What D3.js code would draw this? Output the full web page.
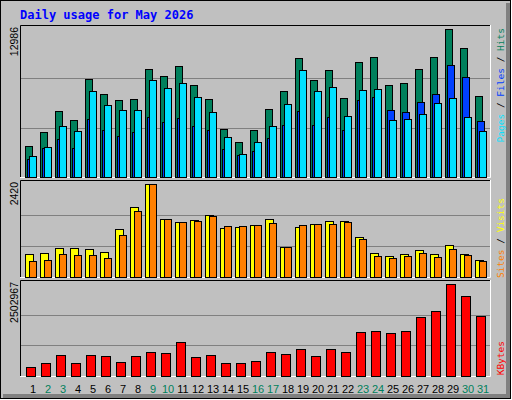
<!DOCTYPE html><html><head><meta charset="utf-8">
<script src="https://cdn.jsdelivr.net/npm/d3@7"></script>
<style>body{margin:0;background:#fff}</style></head><body>
<script>
const days = d3.range(1,32);
const weekend = [2,3,9,10,16,17,23,24,30,31];
const hits = [2720,3948,5791,5001,8599,7282,6756,6844,9476,8862,9739,8072,6844,4212,3071,4124,5966,7546,10441,8511,9388,6931,10090,10529,8072,8248,9476,10529,12986,11318,7107];
const files = [1579,2544,3334,2544,5089,4124,3597,3948,5264,4826,5177,4475,4124,2457,1930,2281,3422,4562,5791,4562,5264,4124,6756,7019,5879,5703,6581,7282,9827,8774,4913];
const pages = [1843,2632,4475,4036,7546,6317,5879,5879,8511,7809,8248,7019,5703,3510,2018,3071,4475,6405,9388,7546,7897,5352,7633,7721,5001,5089,5528,6493,6931,5264,4036];
const visits = [611,637,742,742,716,663,1240,1817,2420,1502,1424,1476,1607,1266,1293,1345,1502,768,1293,1371,1450,1450,1030,637,558,611,690,611,821,611,454];
const sites = [427,454,611,585,585,506,1083,1712,2420,1502,1424,1450,1581,1319,1319,1345,1398,768,1345,1371,1371,1424,978,558,506,558,637,532,716,585,427];
const kbytes = [255000,365000,584000,365000,584000,557000,392000,557000,666000,639000,913000,529000,584000,365000,365000,419000,666000,611000,721000,557000,748000,666000,1187000,1214000,1160000,1214000,1598000,1763000,2502967,2174000,1626000];
const title = "Daily usage for May 2026";

const svg = d3.select("body").append("svg").attr("width",512).attr("height",400);
svg.append("rect").attr("x",0).attr("y",0).attr("width",512).attr("height",400).attr("fill","#fff");
svg.append("rect").attr("x",0.5).attr("y",0.5).attr("width",510).attr("height",398).attr("fill","#c0c0c0").attr("stroke","#000");
svg.append("rect").attr("x",506).attr("y",3).attr("width",4).attr("height",395).attr("fill","#808080");
svg.append("rect").attr("x",3).attr("y",394).attr("width",507).attr("height",4).attr("fill","#808080");
svg.append("text").attr("x",20).attr("y",19).text(title).attr("font-family","DejaVu Sans Mono").attr("font-weight","bold").attr("font-size",12).attr("fill","#0000ff");

const x = d3.scaleLinear().domain([1,31]).range([25,475]);
const panels = [
 {top:25,bottom:177,maxY:29,max:12986,label:"12986"},
 {top:180,bottom:277,maxY:184,max:2420,label:"2420"},
 {top:280,bottom:376,maxY:284,max:2502967,label:"2502967"}
];
panels.forEach(p=>{
  p.y = d3.scaleLinear().domain([0,p.max]).range([p.bottom,p.maxY]);
  const g = svg.append("g");
  const h = p.bottom-p.top;
  [1/3,2/3].forEach(f=>g.append("line").attr("x1",21).attr("x2",490).attr("y1",Math.round(p.bottom-(p.bottom-p.maxY)*f)+0.5).attr("y2",Math.round(p.bottom-(p.bottom-p.maxY)*f)+0.5).attr("stroke","#808080"));
  g.append("path").attr("d",`M20.5,${p.bottom}V${p.top+0.5}H491`).attr("fill","none").attr("stroke","#000");
  g.append("path").attr("d",`M20,${p.bottom+0.5}H490.5V${p.top}`).attr("fill","none").attr("stroke","#fff");
  svg.append("text").attr("transform",`translate(18,${p.top+2}) rotate(-90)`).attr("text-anchor","end").text(p.label).attr("font-family","Liberation Sans").attr("font-size",10.5).attr("fill","#000");
});
function bars(data,p,dx,w,color){
  svg.append("g").selectAll("rect").data(data).join("rect")
   .attr("x",(d,i)=>x(days[i])+dx+0.5).attr("width",w)
   .attr("y",d=>Math.round(p.y(d))+0.5).attr("height",d=>p.bottom-Math.round(p.y(d)))
   .attr("fill",color).attr("stroke","#000");
}
bars(hits,panels[0],0,7,"#00805c");
bars(files,panels[0],2,7,"#0040ff");
bars(pages,panels[0],4,7,"#00e0ff");
bars(visits,panels[1],0,8,"#ffff00");
bars(sites,panels[1],4,7,"#ff8000");
bars(kbytes,panels[2],1,9,"#ff0000");

svg.append("g").selectAll("text").data(days).join("text")
 .attr("x",d=>x(d)+8).attr("y",393).attr("text-anchor","middle").text(d=>d)
 .attr("font-family","Liberation Sans").attr("font-size",11)
 .attr("fill",d=>weekend.includes(d)?"#00805c":"#000");

function legend(parts,yEnd){
  const t = svg.append("text").attr("transform",`translate(504,${yEnd}) rotate(-90)`).attr("text-anchor","end")
   .attr("font-family","DejaVu Sans Mono").attr("font-size",9.5);
  parts.forEach(([s,c])=>t.append("tspan").text(s).attr("fill",c));
}
legend([["Pages","#00e0ff"],[" / ","#000"],["Files","#0040ff"],[" / ","#000"],["Hits","#00805c"]],28);
legend([["Sites","#ff8000"],[" / ","#000"],["Visits","#ffff00"]],198);
legend([["KBytes","#ff0000"]],341);
</script></body></html>
